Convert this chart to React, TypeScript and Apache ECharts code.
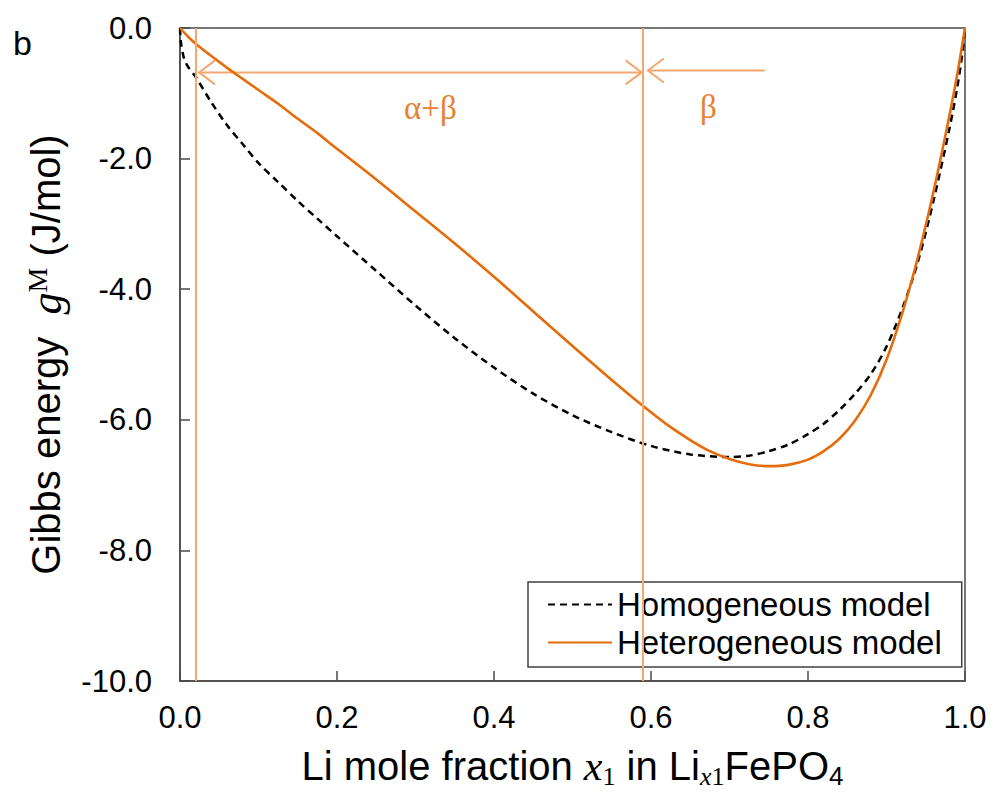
import React, { useEffect, useRef } from 'react';
import * as echarts from 'echarts';

// Homogeneous model (dashed black)
const xHomogeneous = [0, 0.001, 0.005, 0.01, 0.02, 0.04, 0.06, 0.08, 0.1, 0.125, 0.15, 0.175, 0.2, 0.25, 0.3, 0.35, 0.4, 0.45, 0.5, 0.55, 0.6, 0.65, 0.7, 0.725, 0.75, 0.775, 0.8, 0.82, 0.84, 0.86, 0.88, 0.9, 0.92, 0.94, 0.96, 0.98, 0.99, 0.997, 1.0];
const yHomogeneous = [0, -0.2, -0.46, -0.59, -0.75, -1.14, -1.49, -1.78, -2.07, -2.36, -2.65, -2.92, -3.19, -3.72, -4.25, -4.75, -5.2, -5.6, -5.93, -6.19, -6.4, -6.53, -6.57, -6.55, -6.48, -6.38, -6.22, -6.06, -5.85, -5.6, -5.3, -4.88, -4.3, -3.58, -2.64, -1.55, -0.92, -0.35, 0];

// Heterogeneous model (solid orange)
const xHeterogeneous = [0, 0.01, 0.02, 0.04, 0.06, 0.08, 0.1, 0.125, 0.15, 0.175, 0.2, 0.25, 0.3, 0.35, 0.4, 0.45, 0.5, 0.55, 0.59, 0.62, 0.65, 0.675, 0.7, 0.725, 0.75, 0.775, 0.8, 0.82, 0.84, 0.86, 0.88, 0.9, 0.92, 0.94, 0.96, 0.98, 0.99, 1.0];
const yHeterogeneous = [0, -0.13, -0.24, -0.43, -0.61, -0.78, -0.95, -1.16, -1.39, -1.61, -1.85, -2.32, -2.81, -3.3, -3.81, -4.34, -4.87, -5.39, -5.79, -6.07, -6.31, -6.48, -6.6, -6.68, -6.71, -6.69, -6.61, -6.48, -6.29, -6.01, -5.62, -5.08, -4.37, -3.51, -2.5, -1.35, -0.72, 0];

// Phase boundaries (vertical lines)
const phaseBoundaries = [0.018, 0.589];

// Arrows: start x, end x, y, head at start, head at end
const arrowStartX = [0.0242, 0.596];
const arrowEndX = [0.588, 0.745];
const arrowY = [-0.68, -0.65];
const arrowHeadStart = [1, 1];
const arrowHeadEnd = [1, 0];

// Region labels
const regionLabels = ['α+β', 'β'];
const regionLabelX = [0.319, 0.673];
const regionLabelY = [-1.22, -1.21];

const seriesNames = ['Homogeneous model', 'Heterogeneous model'];

const SANS = 'Liberation Sans, Arial, sans-serif';
const SERIF = 'Liberation Serif, Times New Roman, serif';
const ACCENT = '#F4A870';
const ORANGE = '#E46C0A';
const LABEL_ORANGE = '#E8802F';

export default function App() {
  const ref = useRef<HTMLDivElement>(null);

  useEffect(() => {
    document.body.style.margin = '0';
    if (!ref.current) return;
    const chart = echarts.init(ref.current, undefined, { renderer: 'svg' });

    const homData = xHomogeneous.map((x, i) => [x, yHomogeneous[i]]);
    const hetData = xHeterogeneous.map((x, i) => [x, yHeterogeneous[i]]);
    const arrowData = arrowStartX.map((x, i) => [x, arrowEndX[i], arrowY[i], arrowHeadStart[i], arrowHeadEnd[i]]);
    const labelData = regionLabels.map((t, i) => ({ value: [regionLabelX[i], regionLabelY[i]], name: t }));

    const axisLineColor = '#4a4a4a';

    const option: any = {
      animation: false,
      backgroundColor: '#fff',
      grid: {
        left: 180,
        right: 32,
        top: 28,
        bottom: 111,
        show: true,
        borderColor: axisLineColor,
        borderWidth: 1.5,
        backgroundColor: 'transparent',
      },
      graphic: [
        {
          type: 'text',
          left: 13,
          top: 26,
          style: { text: 'b', font: `34px ${SANS}`, fill: '#000' },
        },
      ],
      legend: {
        data: seriesNames,
        orient: 'vertical',
        left: 528,
        top: 582,
        itemWidth: 64,
        itemHeight: 2,
        itemGap: 5,
        padding: [6, 20, 8, 19],
        borderColor: '#404040',
        borderWidth: 1.5,
        backgroundColor: '#fff',
        itemStyle: { opacity: 0 },
        textStyle: { fontSize: 33, fontFamily: SANS, color: '#000', lineHeight: 33 },
      },
      xAxis: {
        type: 'value',
        min: 0,
        max: 1,
        interval: 0.2,
        splitLine: { show: false },
        axisLine: { show: true, onZero: false, lineStyle: { color: axisLineColor, width: 1.5 } },
        axisTick: { show: true, inside: true, length: 10, lineStyle: { color: axisLineColor, width: 1.5 } },
        axisLabel: {
          margin: 21,
          fontSize: 31,
          fontFamily: SANS,
          color: '#000',
          formatter: (v: number) => v.toFixed(1),
        },
        name: '{a|Li mole fraction }{i|x}{s|1}{a| in Li}{si|x}{s|1}{a|FePO}{ss|4}',
        nameLocation: 'middle',
        nameGap: 62,
        nameTextStyle: {
          rich: {
            a: { fontSize: 40, fontFamily: SANS, color: '#000', lineHeight: 46 },
            i: { fontSize: 42, fontFamily: SERIF, fontStyle: 'italic', color: '#000', lineHeight: 46 },
            s: { fontSize: 26, fontFamily: SERIF, color: '#000', lineHeight: 24, verticalAlign: 'bottom' },
            si: { fontSize: 26, fontFamily: SERIF, fontStyle: 'italic', color: '#000', lineHeight: 24, verticalAlign: 'bottom' },
            ss: { fontSize: 26, fontFamily: SANS, color: '#000', lineHeight: 24, verticalAlign: 'bottom' },
          },
        },
      },
      yAxis: {
        type: 'value',
        min: -10,
        max: 0,
        interval: 2,
        splitLine: { show: false },
        axisLine: { show: true, onZero: false, lineStyle: { color: axisLineColor, width: 1.5 } },
        axisTick: { show: true, inside: true, length: 10, lineStyle: { color: axisLineColor, width: 1.5 } },
        axisLabel: {
          margin: 28,
          fontSize: 31,
          fontFamily: SANS,
          color: '#000',
          formatter: (v: number) => v.toFixed(1),
        },
        name: '{a|Gibbs energy  }{i|g}{sup|M}{a| (J/mol)}',
        nameLocation: 'middle',
        nameRotate: 90,
        nameGap: 111,
        nameTextStyle: {
          rich: {
            a: { fontSize: 40, fontFamily: SANS, color: '#000', lineHeight: 46 },
            i: { fontSize: 44, fontFamily: SERIF, fontStyle: 'italic', color: '#000', lineHeight: 46 },
            sup: { fontSize: 28, fontFamily: SERIF, color: '#000', lineHeight: 22, verticalAlign: 'top' },
          },
        },
      },
      series: [
        {
          name: seriesNames[0],
          type: 'line',
          data: homData,
          symbol: 'none',
          smooth: 0.3,
          z: 3,
          lineStyle: { color: '#000', width: 2.5, type: [7, 5] },
          itemStyle: { color: '#000' },
        },
        {
          name: seriesNames[1],
          type: 'line',
          data: hetData,
          symbol: 'none',
          smooth: 0.3,
          z: 4,
          lineStyle: { color: ORANGE, width: 2.6 },
          itemStyle: { color: ORANGE },
          markLine: {
            silent: true,
            symbol: ['none', 'none'],
            label: { show: false },
            lineStyle: { color: ACCENT, width: 2, type: 'solid' },
            data: phaseBoundaries.map((x) => ({ xAxis: x })),
          },
        },
        {
          name: 'arrows',
          type: 'custom',
          coordinateSystem: 'cartesian2d',
          clip: false,
          silent: true,
          z: 2,
          encode: { x: [0, 1], y: 2 },
          data: arrowData,
          renderItem: (params: any, api: any) => {
            const p1 = api.coord([api.value(0), api.value(2)]);
            const p2 = api.coord([api.value(1), api.value(2)]);
            const style = { stroke: ACCENT, lineWidth: 2, fill: 'none' };
            const children: any[] = [
              { type: 'line', shape: { x1: p1[0], y1: p1[1], x2: p2[0], y2: p2[1] }, style },
            ];
            const ax = 16;
            const ay = 12;
            if (api.value(3)) {
              children.push({
                type: 'polyline',
                shape: { points: [[p1[0] + ax, p1[1] - ay], [p1[0], p1[1]], [p1[0] + ax, p1[1] + ay]] },
                style,
              });
            }
            if (api.value(4)) {
              children.push({
                type: 'polyline',
                shape: { points: [[p2[0] - ax, p2[1] - ay], [p2[0], p2[1]], [p2[0] - ax, p2[1] + ay]] },
                style,
              });
            }
            return { type: 'group', children };
          },
        },
        {
          name: 'regions',
          type: 'custom',
          coordinateSystem: 'cartesian2d',
          clip: false,
          silent: true,
          z: 2,
          encode: { x: 0, y: 1 },
          data: labelData,
          renderItem: (params: any, api: any) => {
            const p = api.coord([api.value(0), api.value(1)]);
            return {
              type: 'text',
              x: p[0],
              y: p[1],
              style: {
                text: regionLabels[params.dataIndex],
                fill: LABEL_ORANGE,
                font: `33px ${SERIF}`,
                align: 'center',
                verticalAlign: 'middle',
              },
            };
          },
        },
      ],
    };

    chart.setOption(option);
    return () => {
      chart.dispose();
    };
  }, []);

  return <div ref={ref} style={{ width: 997, height: 794 }} />;
}
